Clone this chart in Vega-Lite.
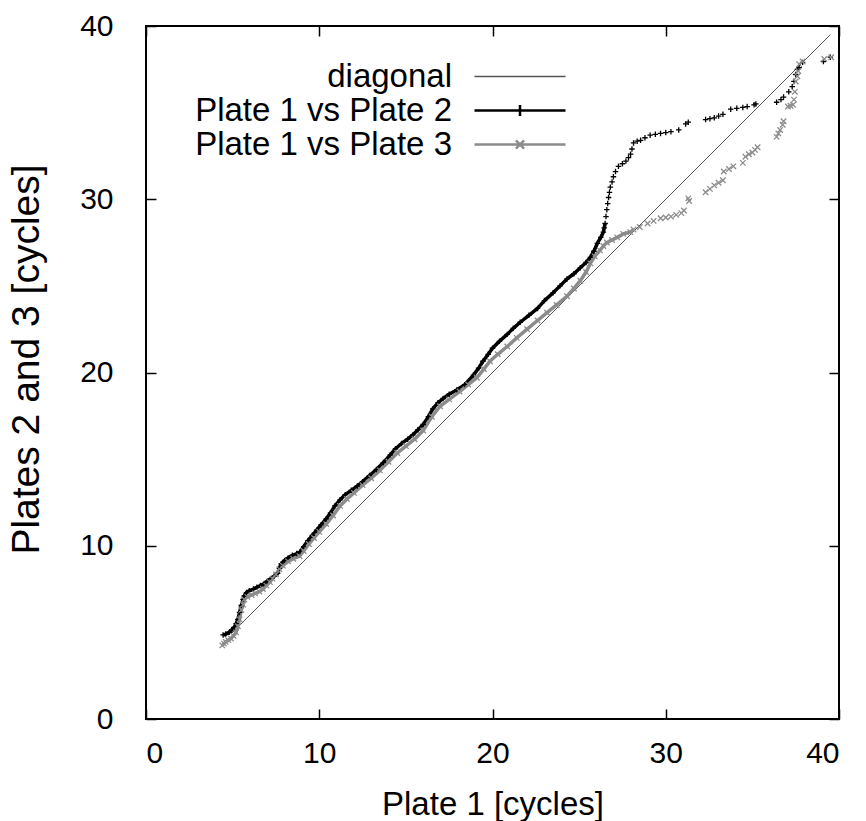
{
  "$schema": "https://vega.github.io/schema/vega-lite/v6.json",
  "width": 693,
  "height": 693,
  "autosize": {"type": "none"},
  "padding": {"left": 146, "top": 26, "right": 27, "bottom": 102},
  "background": "white",
  "config": {
    "font": "Liberation Sans",
    "view": {"stroke": "#000000", "strokeWidth": 2},
    "axis": {
      "grid": false,
      "domain": false,
      "tickColor": "#000000",
      "tickWidth": 1.5,
      "tickSize": -10,
      "labelFont": "Liberation Sans",
      "labelFontSize": 30,
      "labelColor": "#000000",
      "titleFont": "Liberation Sans",
      "titleFontSize": 33,
      "titleFontWeight": "normal",
      "titleColor": "#000000"
    }
  },
  "data": {
    "values": [
      {"series": "diagonal", "plate1": 4.9, "other": 4.9},
      {"series": "diagonal", "plate1": 39.5, "other": 39.5},

      {"series": "Plate 1 vs Plate 2", "plate1": 4.45, "other": 4.85},
      {"series": "Plate 1 vs Plate 2", "plate1": 4.6, "other": 4.9},
      {"series": "Plate 1 vs Plate 2", "plate1": 4.8, "other": 5.0},
      {"series": "Plate 1 vs Plate 2", "plate1": 4.95, "other": 5.15},
      {"series": "Plate 1 vs Plate 2", "plate1": 5.1, "other": 5.3},
      {"series": "Plate 1 vs Plate 2", "plate1": 5.2, "other": 5.5},
      {"series": "Plate 1 vs Plate 2", "plate1": 5.3, "other": 5.75},
      {"series": "Plate 1 vs Plate 2", "plate1": 5.4, "other": 6.15},
      {"series": "Plate 1 vs Plate 2", "plate1": 5.5, "other": 6.55},
      {"series": "Plate 1 vs Plate 2", "plate1": 5.6, "other": 6.9},
      {"series": "Plate 1 vs Plate 2", "plate1": 5.67, "other": 7.1},
      {"series": "Plate 1 vs Plate 2", "plate1": 5.8, "other": 7.3},
      {"series": "Plate 1 vs Plate 2", "plate1": 5.96, "other": 7.4},
      {"series": "Plate 1 vs Plate 2", "plate1": 6.2, "other": 7.5},
      {"series": "Plate 1 vs Plate 2", "plate1": 6.4, "other": 7.6},
      {"series": "Plate 1 vs Plate 2", "plate1": 6.6, "other": 7.7},
      {"series": "Plate 1 vs Plate 2", "plate1": 6.8, "other": 7.8},
      {"series": "Plate 1 vs Plate 2", "plate1": 7.0, "other": 7.95},
      {"series": "Plate 1 vs Plate 2", "plate1": 7.2, "other": 8.1},
      {"series": "Plate 1 vs Plate 2", "plate1": 7.4, "other": 8.25},
      {"series": "Plate 1 vs Plate 2", "plate1": 7.6, "other": 8.4},
      {"series": "Plate 1 vs Plate 2", "plate1": 7.7, "other": 8.7},
      {"series": "Plate 1 vs Plate 2", "plate1": 7.8, "other": 8.95},
      {"series": "Plate 1 vs Plate 2", "plate1": 8.0, "other": 9.15},
      {"series": "Plate 1 vs Plate 2", "plate1": 8.2, "other": 9.3},
      {"series": "Plate 1 vs Plate 2", "plate1": 8.45, "other": 9.45},
      {"series": "Plate 1 vs Plate 2", "plate1": 8.7, "other": 9.55},
      {"series": "Plate 1 vs Plate 2", "plate1": 8.9, "other": 9.65},
      {"series": "Plate 1 vs Plate 2", "plate1": 9.1, "other": 9.95},
      {"series": "Plate 1 vs Plate 2", "plate1": 9.35, "other": 10.3},
      {"series": "Plate 1 vs Plate 2", "plate1": 9.6, "other": 10.6},
      {"series": "Plate 1 vs Plate 2", "plate1": 9.85, "other": 10.9},
      {"series": "Plate 1 vs Plate 2", "plate1": 10.1, "other": 11.2},
      {"series": "Plate 1 vs Plate 2", "plate1": 10.4, "other": 11.55},
      {"series": "Plate 1 vs Plate 2", "plate1": 10.65, "other": 11.9},
      {"series": "Plate 1 vs Plate 2", "plate1": 10.9, "other": 12.3},
      {"series": "Plate 1 vs Plate 2", "plate1": 11.2, "other": 12.65},
      {"series": "Plate 1 vs Plate 2", "plate1": 11.5, "other": 12.95},
      {"series": "Plate 1 vs Plate 2", "plate1": 11.85, "other": 13.2},
      {"series": "Plate 1 vs Plate 2", "plate1": 12.2, "other": 13.45},
      {"series": "Plate 1 vs Plate 2", "plate1": 12.5, "other": 13.7},
      {"series": "Plate 1 vs Plate 2", "plate1": 12.9, "other": 14.05},
      {"series": "Plate 1 vs Plate 2", "plate1": 13.3, "other": 14.4},
      {"series": "Plate 1 vs Plate 2", "plate1": 13.7, "other": 14.8},
      {"series": "Plate 1 vs Plate 2", "plate1": 14.1, "other": 15.25},
      {"series": "Plate 1 vs Plate 2", "plate1": 14.4, "other": 15.6},
      {"series": "Plate 1 vs Plate 2", "plate1": 14.75, "other": 15.9},
      {"series": "Plate 1 vs Plate 2", "plate1": 15.1, "other": 16.15},
      {"series": "Plate 1 vs Plate 2", "plate1": 15.4, "other": 16.4},
      {"series": "Plate 1 vs Plate 2", "plate1": 15.7, "other": 16.7},
      {"series": "Plate 1 vs Plate 2", "plate1": 16.0, "other": 17.0},
      {"series": "Plate 1 vs Plate 2", "plate1": 16.3, "other": 17.45},
      {"series": "Plate 1 vs Plate 2", "plate1": 16.55, "other": 17.9},
      {"series": "Plate 1 vs Plate 2", "plate1": 16.85, "other": 18.25},
      {"series": "Plate 1 vs Plate 2", "plate1": 17.15, "other": 18.5},
      {"series": "Plate 1 vs Plate 2", "plate1": 17.5, "other": 18.75},
      {"series": "Plate 1 vs Plate 2", "plate1": 17.95, "other": 19.0},
      {"series": "Plate 1 vs Plate 2", "plate1": 18.4, "other": 19.3},
      {"series": "Plate 1 vs Plate 2", "plate1": 18.9, "other": 19.85},
      {"series": "Plate 1 vs Plate 2", "plate1": 19.2, "other": 20.25},
      {"series": "Plate 1 vs Plate 2", "plate1": 19.45, "other": 20.65},
      {"series": "Plate 1 vs Plate 2", "plate1": 19.75, "other": 21.05},
      {"series": "Plate 1 vs Plate 2", "plate1": 20.0, "other": 21.4},
      {"series": "Plate 1 vs Plate 2", "plate1": 20.4, "other": 21.8},
      {"series": "Plate 1 vs Plate 2", "plate1": 20.85, "other": 22.2},
      {"series": "Plate 1 vs Plate 2", "plate1": 21.2, "other": 22.55},
      {"series": "Plate 1 vs Plate 2", "plate1": 21.6, "other": 22.9},
      {"series": "Plate 1 vs Plate 2", "plate1": 22.1, "other": 23.3},
      {"series": "Plate 1 vs Plate 2", "plate1": 22.6, "other": 23.7},
      {"series": "Plate 1 vs Plate 2", "plate1": 23.0, "other": 24.15},
      {"series": "Plate 1 vs Plate 2", "plate1": 23.5, "other": 24.6},
      {"series": "Plate 1 vs Plate 2", "plate1": 23.9, "other": 25.0},
      {"series": "Plate 1 vs Plate 2", "plate1": 24.3, "other": 25.4},
      {"series": "Plate 1 vs Plate 2", "plate1": 24.7, "other": 25.7},
      {"series": "Plate 1 vs Plate 2", "plate1": 25.07, "other": 26.05},
      {"series": "Plate 1 vs Plate 2", "plate1": 25.4, "other": 26.35},
      {"series": "Plate 1 vs Plate 2", "plate1": 25.65, "other": 26.65},
      {"series": "Plate 1 vs Plate 2", "plate1": 25.85, "other": 27.0},
      {"series": "Plate 1 vs Plate 2", "plate1": 26.05, "other": 27.45},
      {"series": "Plate 1 vs Plate 2", "plate1": 26.25, "other": 27.8},
      {"series": "Plate 1 vs Plate 2", "plate1": 26.4, "other": 28.1},
      {"series": "Plate 1 vs Plate 2", "plate1": 26.45, "other": 28.35},
      {"series": "Plate 1 vs Plate 2", "plate1": 26.5, "other": 28.6},
      {"series": "Plate 1 vs Plate 2", "plate1": 26.55, "other": 29.0},
      {"series": "Plate 1 vs Plate 2", "plate1": 26.6, "other": 29.4},
      {"series": "Plate 1 vs Plate 2", "plate1": 26.65, "other": 29.75},
      {"series": "Plate 1 vs Plate 2", "plate1": 26.7, "other": 30.1},
      {"series": "Plate 1 vs Plate 2", "plate1": 26.75, "other": 30.4},
      {"series": "Plate 1 vs Plate 2", "plate1": 26.8, "other": 30.7},
      {"series": "Plate 1 vs Plate 2", "plate1": 26.9, "other": 31.0},
      {"series": "Plate 1 vs Plate 2", "plate1": 26.98, "other": 31.3},
      {"series": "Plate 1 vs Plate 2", "plate1": 27.1, "other": 31.6},
      {"series": "Plate 1 vs Plate 2", "plate1": 27.27, "other": 31.9},
      {"series": "Plate 1 vs Plate 2", "plate1": 27.5, "other": 32.05},
      {"series": "Plate 1 vs Plate 2", "plate1": 27.7, "other": 32.2},
      {"series": "Plate 1 vs Plate 2", "plate1": 27.85, "other": 32.4},
      {"series": "Plate 1 vs Plate 2", "plate1": 27.97, "other": 32.6},
      {"series": "Plate 1 vs Plate 2", "plate1": 28.05, "other": 32.9},
      {"series": "Plate 1 vs Plate 2", "plate1": 28.14, "other": 33.25},
      {"series": "Plate 1 vs Plate 2", "plate1": 28.35, "other": 33.35},
      {"series": "Plate 1 vs Plate 2", "plate1": 28.55, "other": 33.4},
      {"series": "Plate 1 vs Plate 2", "plate1": 28.8, "other": 33.55},
      {"series": "Plate 1 vs Plate 2", "plate1": 29.1, "other": 33.7},
      {"series": "Plate 1 vs Plate 2", "plate1": 29.4, "other": 33.75},
      {"series": "Plate 1 vs Plate 2", "plate1": 29.7, "other": 33.8},
      {"series": "Plate 1 vs Plate 2", "plate1": 30.0, "other": 33.85},
      {"series": "Plate 1 vs Plate 2", "plate1": 30.3, "other": 33.9},
      {"series": "Plate 1 vs Plate 2", "plate1": 30.75, "other": 34.0},
      {"series": "Plate 1 vs Plate 2", "plate1": 31.15, "other": 34.35},
      {"series": "Plate 1 vs Plate 2", "plate1": 31.3, "other": 34.45},
      {"series": "Plate 1 vs Plate 2", "plate1": 32.3, "other": 34.6},
      {"series": "Plate 1 vs Plate 2", "plate1": 32.55, "other": 34.65},
      {"series": "Plate 1 vs Plate 2", "plate1": 32.8, "other": 34.7},
      {"series": "Plate 1 vs Plate 2", "plate1": 33.05, "other": 34.8},
      {"series": "Plate 1 vs Plate 2", "plate1": 33.3, "other": 34.9},
      {"series": "Plate 1 vs Plate 2", "plate1": 33.75, "other": 35.2},
      {"series": "Plate 1 vs Plate 2", "plate1": 34.1, "other": 35.25},
      {"series": "Plate 1 vs Plate 2", "plate1": 34.45, "other": 35.3},
      {"series": "Plate 1 vs Plate 2", "plate1": 34.7, "other": 35.35},
      {"series": "Plate 1 vs Plate 2", "plate1": 35.1, "other": 35.45},
      {"series": "Plate 1 vs Plate 2", "plate1": 35.2, "other": 35.5},
      {"series": "Plate 1 vs Plate 2", "plate1": 36.4, "other": 35.6},
      {"series": "Plate 1 vs Plate 2", "plate1": 36.65, "other": 35.75},
      {"series": "Plate 1 vs Plate 2", "plate1": 36.8, "other": 35.9},
      {"series": "Plate 1 vs Plate 2", "plate1": 37.1, "other": 36.2},
      {"series": "Plate 1 vs Plate 2", "plate1": 37.3, "other": 36.5},
      {"series": "Plate 1 vs Plate 2", "plate1": 37.4, "other": 36.8},
      {"series": "Plate 1 vs Plate 2", "plate1": 37.5, "other": 37.2},
      {"series": "Plate 1 vs Plate 2", "plate1": 37.6, "other": 37.5},
      {"series": "Plate 1 vs Plate 2", "plate1": 37.7, "other": 37.6},
      {"series": "Plate 1 vs Plate 2", "plate1": 37.9, "other": 37.9},
      {"series": "Plate 1 vs Plate 2", "plate1": 39.1, "other": 37.95},
      {"series": "Plate 1 vs Plate 2", "plate1": 39.5, "other": 38.2},

      {"series": "Plate 1 vs Plate 3", "plate1": 4.4, "other": 4.25},
      {"series": "Plate 1 vs Plate 3", "plate1": 4.5, "other": 4.35},
      {"series": "Plate 1 vs Plate 3", "plate1": 4.6, "other": 4.45},
      {"series": "Plate 1 vs Plate 3", "plate1": 4.75, "other": 4.55},
      {"series": "Plate 1 vs Plate 3", "plate1": 4.9, "other": 4.65},
      {"series": "Plate 1 vs Plate 3", "plate1": 5.05, "other": 4.8},
      {"series": "Plate 1 vs Plate 3", "plate1": 5.2, "other": 5.0},
      {"series": "Plate 1 vs Plate 3", "plate1": 5.3, "other": 5.35},
      {"series": "Plate 1 vs Plate 3", "plate1": 5.4, "other": 5.75},
      {"series": "Plate 1 vs Plate 3", "plate1": 5.5, "other": 6.3},
      {"series": "Plate 1 vs Plate 3", "plate1": 5.6, "other": 6.6},
      {"series": "Plate 1 vs Plate 3", "plate1": 5.67, "other": 6.9},
      {"series": "Plate 1 vs Plate 3", "plate1": 5.85, "other": 7.05},
      {"series": "Plate 1 vs Plate 3", "plate1": 6.1, "other": 7.15},
      {"series": "Plate 1 vs Plate 3", "plate1": 6.3, "other": 7.25},
      {"series": "Plate 1 vs Plate 3", "plate1": 6.55, "other": 7.35},
      {"series": "Plate 1 vs Plate 3", "plate1": 6.75, "other": 7.5},
      {"series": "Plate 1 vs Plate 3", "plate1": 6.95, "other": 7.7},
      {"series": "Plate 1 vs Plate 3", "plate1": 7.15, "other": 7.9},
      {"series": "Plate 1 vs Plate 3", "plate1": 7.3, "other": 8.1},
      {"series": "Plate 1 vs Plate 3", "plate1": 7.5, "other": 8.35},
      {"series": "Plate 1 vs Plate 3", "plate1": 7.7, "other": 8.65},
      {"series": "Plate 1 vs Plate 3", "plate1": 7.9, "other": 8.85},
      {"series": "Plate 1 vs Plate 3", "plate1": 8.2, "other": 9.1},
      {"series": "Plate 1 vs Plate 3", "plate1": 8.5, "other": 9.25},
      {"series": "Plate 1 vs Plate 3", "plate1": 8.86, "other": 9.4},
      {"series": "Plate 1 vs Plate 3", "plate1": 9.1, "other": 9.7},
      {"series": "Plate 1 vs Plate 3", "plate1": 9.4, "other": 10.1},
      {"series": "Plate 1 vs Plate 3", "plate1": 9.7, "other": 10.45},
      {"series": "Plate 1 vs Plate 3", "plate1": 10.0, "other": 10.8},
      {"series": "Plate 1 vs Plate 3", "plate1": 10.4, "other": 11.25},
      {"series": "Plate 1 vs Plate 3", "plate1": 10.8, "other": 11.75},
      {"series": "Plate 1 vs Plate 3", "plate1": 11.2, "other": 12.3},
      {"series": "Plate 1 vs Plate 3", "plate1": 11.6, "other": 12.7},
      {"series": "Plate 1 vs Plate 3", "plate1": 12.0, "other": 13.05},
      {"series": "Plate 1 vs Plate 3", "plate1": 12.5, "other": 13.5},
      {"series": "Plate 1 vs Plate 3", "plate1": 13.0, "other": 13.9},
      {"series": "Plate 1 vs Plate 3", "plate1": 13.5, "other": 14.35},
      {"series": "Plate 1 vs Plate 3", "plate1": 14.0, "other": 14.85},
      {"series": "Plate 1 vs Plate 3", "plate1": 14.5, "other": 15.35},
      {"series": "Plate 1 vs Plate 3", "plate1": 15.0, "other": 15.75},
      {"series": "Plate 1 vs Plate 3", "plate1": 15.5, "other": 16.15},
      {"series": "Plate 1 vs Plate 3", "plate1": 16.0, "other": 16.65},
      {"series": "Plate 1 vs Plate 3", "plate1": 16.5, "other": 17.45},
      {"series": "Plate 1 vs Plate 3", "plate1": 16.97, "other": 18.05},
      {"series": "Plate 1 vs Plate 3", "plate1": 17.5, "other": 18.45},
      {"series": "Plate 1 vs Plate 3", "plate1": 18.1, "other": 18.9},
      {"series": "Plate 1 vs Plate 3", "plate1": 18.6, "other": 19.3},
      {"series": "Plate 1 vs Plate 3", "plate1": 19.1, "other": 19.7},
      {"series": "Plate 1 vs Plate 3", "plate1": 19.5, "other": 20.2},
      {"series": "Plate 1 vs Plate 3", "plate1": 19.85, "other": 20.65},
      {"series": "Plate 1 vs Plate 3", "plate1": 20.3, "other": 21.05},
      {"series": "Plate 1 vs Plate 3", "plate1": 20.85, "other": 21.5},
      {"series": "Plate 1 vs Plate 3", "plate1": 21.4, "other": 22.0},
      {"series": "Plate 1 vs Plate 3", "plate1": 22.0, "other": 22.5},
      {"series": "Plate 1 vs Plate 3", "plate1": 22.6, "other": 23.0},
      {"series": "Plate 1 vs Plate 3", "plate1": 23.15, "other": 23.45},
      {"series": "Plate 1 vs Plate 3", "plate1": 23.7, "other": 23.9},
      {"series": "Plate 1 vs Plate 3", "plate1": 24.3, "other": 24.4},
      {"series": "Plate 1 vs Plate 3", "plate1": 24.7, "other": 24.85},
      {"series": "Plate 1 vs Plate 3", "plate1": 25.07, "other": 25.3},
      {"series": "Plate 1 vs Plate 3", "plate1": 25.4, "other": 25.8},
      {"series": "Plate 1 vs Plate 3", "plate1": 25.65, "other": 26.3},
      {"series": "Plate 1 vs Plate 3", "plate1": 25.9, "other": 26.7},
      {"series": "Plate 1 vs Plate 3", "plate1": 26.2, "other": 27.05},
      {"series": "Plate 1 vs Plate 3", "plate1": 26.4, "other": 27.3},
      {"series": "Plate 1 vs Plate 3", "plate1": 26.6, "other": 27.5},
      {"series": "Plate 1 vs Plate 3", "plate1": 26.9, "other": 27.65},
      {"series": "Plate 1 vs Plate 3", "plate1": 27.2, "other": 27.8},
      {"series": "Plate 1 vs Plate 3", "plate1": 27.55, "other": 28.0},
      {"series": "Plate 1 vs Plate 3", "plate1": 27.95, "other": 28.1},
      {"series": "Plate 1 vs Plate 3", "plate1": 28.14, "other": 28.25},
      {"series": "Plate 1 vs Plate 3", "plate1": 28.5, "other": 28.4},
      {"series": "Plate 1 vs Plate 3", "plate1": 28.95, "other": 28.6},
      {"series": "Plate 1 vs Plate 3", "plate1": 29.3, "other": 28.75},
      {"series": "Plate 1 vs Plate 3", "plate1": 29.7, "other": 28.9},
      {"series": "Plate 1 vs Plate 3", "plate1": 30.0, "other": 28.95},
      {"series": "Plate 1 vs Plate 3", "plate1": 30.3, "other": 29.0},
      {"series": "Plate 1 vs Plate 3", "plate1": 30.6, "other": 29.1},
      {"series": "Plate 1 vs Plate 3", "plate1": 30.9, "other": 29.2},
      {"series": "Plate 1 vs Plate 3", "plate1": 31.05, "other": 29.35},
      {"series": "Plate 1 vs Plate 3", "plate1": 31.3, "other": 30.05},
      {"series": "Plate 1 vs Plate 3", "plate1": 31.35, "other": 29.9},
      {"series": "Plate 1 vs Plate 3", "plate1": 32.3, "other": 30.4},
      {"series": "Plate 1 vs Plate 3", "plate1": 32.55, "other": 30.6},
      {"series": "Plate 1 vs Plate 3", "plate1": 32.8, "other": 30.8},
      {"series": "Plate 1 vs Plate 3", "plate1": 33.05, "other": 30.95},
      {"series": "Plate 1 vs Plate 3", "plate1": 33.3, "other": 31.1},
      {"series": "Plate 1 vs Plate 3", "plate1": 33.35, "other": 31.6},
      {"series": "Plate 1 vs Plate 3", "plate1": 33.65, "other": 31.75},
      {"series": "Plate 1 vs Plate 3", "plate1": 33.9, "other": 31.9},
      {"series": "Plate 1 vs Plate 3", "plate1": 34.45, "other": 32.1},
      {"series": "Plate 1 vs Plate 3", "plate1": 34.6, "other": 32.45},
      {"series": "Plate 1 vs Plate 3", "plate1": 34.8, "other": 32.6},
      {"series": "Plate 1 vs Plate 3", "plate1": 35.0, "other": 32.7},
      {"series": "Plate 1 vs Plate 3", "plate1": 35.15, "other": 32.85},
      {"series": "Plate 1 vs Plate 3", "plate1": 35.3, "other": 33.0},
      {"series": "Plate 1 vs Plate 3", "plate1": 36.4, "other": 33.6},
      {"series": "Plate 1 vs Plate 3", "plate1": 36.5, "other": 33.8},
      {"series": "Plate 1 vs Plate 3", "plate1": 36.6, "other": 34.0},
      {"series": "Plate 1 vs Plate 3", "plate1": 36.75, "other": 34.3},
      {"series": "Plate 1 vs Plate 3", "plate1": 36.8, "other": 34.5},
      {"series": "Plate 1 vs Plate 3", "plate1": 37.05, "other": 35.35},
      {"series": "Plate 1 vs Plate 3", "plate1": 37.2, "other": 35.4},
      {"series": "Plate 1 vs Plate 3", "plate1": 37.35, "other": 35.45},
      {"series": "Plate 1 vs Plate 3", "plate1": 37.4, "other": 35.75},
      {"series": "Plate 1 vs Plate 3", "plate1": 37.45, "other": 36.2},
      {"series": "Plate 1 vs Plate 3", "plate1": 37.5, "other": 36.8},
      {"series": "Plate 1 vs Plate 3", "plate1": 37.6, "other": 37.1},
      {"series": "Plate 1 vs Plate 3", "plate1": 37.65, "other": 37.4},
      {"series": "Plate 1 vs Plate 3", "plate1": 37.7, "other": 37.8},
      {"series": "Plate 1 vs Plate 3", "plate1": 37.9, "other": 37.95},
      {"series": "Plate 1 vs Plate 3", "plate1": 39.15, "other": 38.1},
      {"series": "Plate 1 vs Plate 3", "plate1": 39.55, "other": 38.2}
    ]
  },
  "resolve": {"axis": {"x": "independent", "y": "independent"}},
  "layer": [
    {
      "transform": [{"filter": "datum.series === 'diagonal'"}],
      "mark": {"type": "line", "strokeWidth": 1, "clip": true},
      "encoding": {
        "x": {"field": "plate1", "type": "quantitative", "scale": {"domain": [0, 40]},
              "axis": {"orient": "bottom", "values": [0, 10, 20, 30, 40], "title": "Plate 1 [cycles]", "labelPadding": 29, "titlePadding": 20}},
        "y": {"field": "other", "type": "quantitative", "scale": {"domain": [0, 40]},
              "axis": {"orient": "left", "values": [0, 10, 20, 30, 40], "title": "Plates 2 and 3 [cycles]", "labelPadding": 43, "titlePadding": 33, "titleFontSize": 39, "titleY": 333}},
        "color": {
          "field": "series", "type": "nominal",
          "scale": {"domain": ["diagonal", "Plate 1 vs Plate 2", "Plate 1 vs Plate 3"], "range": ["#555555", "#000000", "#8c8c8c"]},
          "legend": {
            "title": null,
            "orient": "none",
            "legendX": 327,
            "legendY": 34,
            "padding": 0,
            "rowPadding": 0,
            "symbolSize": 8281,
            "symbolStrokeWidth": 2.5,
            "labelAlign": "right",
            "labelOffset": -115,
            "labelFont": "Liberation Sans",
            "labelFontSize": 33,
            "labelColor": "#000000",
            "labelLimit": 0,
            "encode": {
              "symbols": {
                "update": {
                  "y": {"value": 16.5},
                  "shape": {"signal": "(datum.value === 'diagonal' ? 'M-1,0H1' : (datum.value === 'Plate 1 vs Plate 2' ? 'M-1,0H1M0,-0.12V0.12' : 'M-1,0H1M-0.09,-0.09L0.09,0.09M-0.09,0.09L0.09,-0.09'))"},
                  "stroke": {"signal": "(datum.value === 'Plate 1 vs Plate 2' ? '#000000' : (datum.value === 'diagonal' ? '#a6a6a6' : '#8c8c8c'))"},
                  "strokeWidth": {"signal": "(datum.value === 'diagonal' ? 1.5 : 2.5)"},
                  "fill": {"value": "transparent"},
                  "opacity": {"value": 1}
                }
              },
              "labels": {
                "update": {
                  "y": {"value": 16.5}
                }
              }
            }
          }
        }
      }
    },
    {
      "transform": [{"filter": "datum.series === 'diagonal'"}],
      "mark": {"type": "line", "strokeWidth": 0, "opacity": 0},
      "encoding": {
        "x": {"field": "plate1", "type": "quantitative", "scale": {"domain": [0, 40]},
              "axis": {"orient": "top", "values": [0, 10, 20, 30, 40], "labels": false, "title": null}},
        "y": {"field": "other", "type": "quantitative", "scale": {"domain": [0, 40]},
              "axis": {"orient": "right", "values": [0, 10, 20, 30, 40], "labels": false, "title": null}}
      }
    },
    {
      "transform": [{"filter": "(datum.series === 'Plate 1 vs Plate 3' && datum.plate1 <= 28.2) || (datum.series === 'Plate 1 vs Plate 2' && datum.plate1 <= 26.5)"}],
      "mark": {"type": "line", "strokeWidth": 3.5, "strokeJoin": "round"},
      "encoding": {
        "x": {"field": "plate1", "type": "quantitative", "axis": null},
        "y": {"field": "other", "type": "quantitative", "axis": null},
        "color": {"field": "series", "type": "nominal", "legend": null},
        "order": {"field": "plate1", "type": "quantitative"}
      }
    },
    {
      "transform": [{"filter": "datum.series !== 'diagonal'"}],
      "mark": {"type": "point", "filled": false, "strokeWidth": 1.3, "size": 30, "opacity": 1},
      "encoding": {
        "x": {"field": "plate1", "type": "quantitative", "axis": null},
        "y": {"field": "other", "type": "quantitative", "axis": null},
        "color": {"field": "series", "type": "nominal", "legend": null},
        "shape": {"field": "series", "type": "nominal", "legend": null,
                  "scale": {"domain": ["Plate 1 vs Plate 2", "Plate 1 vs Plate 3"], "range": ["M-1,0H1M0,-1V1", "M-1,-1L1,1M-1,1L1,-1"]}}
      }
    }
  ]
}
